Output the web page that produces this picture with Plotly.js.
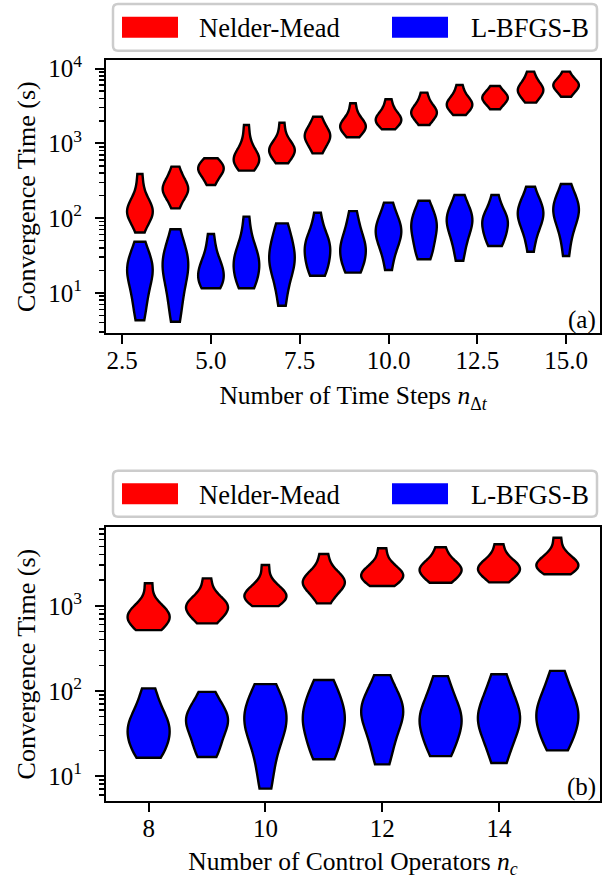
<!DOCTYPE html>
<html><head><meta charset="utf-8">
<script src="https://cdn.plot.ly/plotly-3.0.1.min.js"></script>
<style>html,body{margin:0;padding:0;background:#fff}#chart{width:606px;height:879px}</style>
</head><body><div id="chart"></div>
<script>
// ---------- data (convergence times in seconds) ----------
const timeSteps = [3,4,5,6,7,8,9,10,11,12,13,14,15];
const nelderMeadA = [
  [64, 89, 105, 115, 123, 129, 141, 166, 224, 389],
  [135, 178, 204, 224, 240, 257, 282, 316, 372, 488],
  [277, 331, 372, 407, 437, 457, 490, 525, 575, 631],
  [432, 501, 550, 589, 617, 661, 724, 832, 1122, 1762],
  [542, 631, 708, 776, 813, 851, 912, 1000, 1259, 1892],
  [736, 891, 1023, 1148, 1230, 1288, 1413, 1549, 1820, 2275],
  [1208, 1380, 1514, 1622, 1698, 1778, 1905, 2089, 2512, 3443],
  [1545, 1738, 1862, 1995, 2089, 2188, 2344, 2570, 3020, 3890],
  [1762, 2042, 2291, 2455, 2570, 2692, 2884, 3162, 3715, 4775],
  [2399, 2692, 2951, 3162, 3311, 3467, 3715, 4074, 4677, 6053],
  [2864, 3236, 3548, 3802, 3981, 4169, 4365, 4677, 5129, 5861],
  [3508, 4074, 4467, 4898, 5129, 5370, 5754, 6310, 7244, 9120],
  [4217, 4786, 5248, 5623, 5888, 6166, 6457, 6918, 7586, 9120]
];
const lbfgsbA = [
  [4.3, 6.3, 8.9, 12.0, 15.1, 18.2, 20.9, 23.4, 26.3, 31.6, 48.3],
  [4.1, 6.3, 9.5, 13.2, 17.4, 21.4, 25.1, 28.2, 32.4, 41.7, 70.8],
  [11.5, 12.0, 13.2, 15.1, 17.4, 19.5, 21.4, 24.0, 28.8, 39.8, 61.2],
  [11.5, 13.2, 15.8, 19.1, 22.4, 25.7, 28.8, 33.1, 39.8, 56.2, 104.5],
  [6.7, 11.2, 16.6, 21.4, 25.1, 28.2, 31.6, 38.0, 50.1, 63.1, 85.1],
  [16.9, 19.1, 22.9, 27.5, 33.1, 38.0, 42.7, 47.9, 55.0, 70.8, 118],
  [18.6, 20.9, 25.1, 30.2, 35.5, 39.8, 43.6, 50.1, 63.1, 83.2, 124],
  [20.2, 31.6, 41.7, 50.1, 57.5, 64.6, 70.8, 79.4, 91.2, 112, 161],
  [28.1, 33.1, 41.7, 51.3, 61.7, 72.4, 81.3, 91.2, 105, 126, 171],
  [26.9, 39.8, 52.5, 66.1, 77.6, 89.1, 97.7, 107, 120, 145, 204],
  [42.4, 47.9, 56.2, 66.1, 75.9, 85.1, 93.3, 102, 115, 138, 204],
  [35.5, 56.2, 72.4, 87.1, 100, 112, 123, 135, 151, 182, 263],
  [31.1, 52.5, 72.4, 91.2, 107, 123, 135, 148, 166, 200, 286]
];
const controlOps = [8,9,10,11,12,13,14,15];
const nelderMeadB = [
  [518, 562, 631, 692, 741, 794, 851, 933, 1096, 1837],
  [621, 708, 813, 891, 955, 1000, 1072, 1175, 1380, 2099],
  [991, 1072, 1175, 1259, 1318, 1380, 1479, 1622, 1950, 3013],
  [1067, 1380, 1585, 1738, 1862, 1950, 2089, 2291, 2692, 4055],
  [1706, 1862, 2042, 2188, 2291, 2399, 2570, 2818, 3311, 4732],
  [1866, 2042, 2291, 2512, 2630, 2754, 2951, 3236, 3715, 4864],
  [1884, 2138, 2399, 2570, 2692, 2818, 3020, 3311, 3802, 5272],
  [2344, 2512, 2754, 2884, 3020, 3162, 3388, 3715, 4365, 6310]
];
const lbfgsbB = [
  [16.4, 18.6, 22.4, 26.9, 31.6, 35.5, 39.8, 45.7, 55.0, 72.4, 107],
  [16.7, 20.0, 25.1, 31.6, 38.0, 42.7, 46.8, 51.3, 58.9, 72.4, 97.3],
  [7.1, 12.6, 20.0, 28.2, 36.3, 42.7, 47.9, 55.0, 67.6, 89.1, 120],
  [15.7, 19.1, 25.1, 33.1, 39.8, 45.7, 52.5, 63.1, 79.4, 100, 134],
  [13.7, 20.0, 28.2, 37.2, 45.7, 53.7, 60.3, 67.6, 79.4, 100, 153],
  [17.1, 20.9, 26.9, 33.9, 40.7, 45.7, 51.3, 60.3, 75.9, 100, 149],
  [14.2, 20.9, 28.2, 35.5, 41.7, 47.9, 53.7, 63.1, 79.4, 105, 157],
  [20.0, 25.1, 31.6, 38.9, 45.7, 52.5, 60.3, 70.8, 87.1, 115, 172]
];
const seriesNames = ['Nelder-Mead', 'L-BFGS-B'];
const seriesColors = ['#ff0000', '#0000ff'];
const xTicksA = [2.5, 5, 7.5, 10, 12.5, 15];
const xTickTextA = ['2.5', '5.0', '7.5', '10.0', '12.5', '15.0'];
const xTicksB = [8, 10, 12, 14];
const xTickTextB = ['8', '10', '12', '14'];
const yDecades = [1, 2, 3, 4];
const yTickText = ['10<sup>1</sup>', '10<sup>2</sup>', '10<sup>3</sup>', '10<sup>4</sup>'];

// ---------- build ----------
const FONT = "'Liberation Serif', 'Times New Roman', serif";
// Scott's rule bandwidth (as matplotlib's violinplot) on log10 values
function scottBw(v) {
  const n = v.length, m = v.reduce((a, b) => a + b, 0) / n;
  const sd = Math.sqrt(v.reduce((a, b) => a + (b - m) * (b - m), 0) / (n - 1));
  return sd * Math.pow(n, -0.2);
}
const traces = [];
function addViolins(pos, groups, ci, xa, ya) {
  groups.forEach((g, i) => {
    const y = g.map(v => Math.log10(v));
    traces.push({
      type: 'violin', x: g.map(() => pos[i]), y, xaxis: xa, yaxis: ya,
      name: seriesNames[ci], fillcolor: seriesColors[ci], opacity: 1,
      line: {color: 'black', width: 2.4},
      width: 0.72, scalemode: 'width', spanmode: 'hard', points: false,
      bandwidth: scottBw(y),
      box: {visible: false}, meanline: {visible: false},
      showlegend: false, hoverinfo: 'skip'
    });
  });
}
addViolins(timeSteps, nelderMeadA, 0, 'x', 'y');
addViolins(timeSteps, lbfgsbA, 1, 'x', 'y');
addViolins(controlOps, nelderMeadB, 0, 'x2', 'y2');
addViolins(controlOps, lbfgsbB, 1, 'x2', 'y2');

const minorVals = [];
for (let n = -1; n <= 4; n++) for (let k = 2; k <= 9; k++) minorVals.push(Math.log10(k) + n);

// pixel -> paper helpers (plot area: x 106..600, y 60..801)
const L = 106, R = 600, T = 60, B = 801;
const PX = p => (p - L) / (R - L);
const PY = p => (B - p) / (B - T);

function roundRect(x0, y0, x1, y1, r) {
  const pts = [
    ['M', x0 + r, y0], ['L', x1 - r, y0], ['Q', x1, y0, x1, y0 + r], ['L', x1, y1 - r],
    ['Q', x1, y1, x1 - r, y1], ['L', x0 + r, y1], ['Q', x0, y1, x0, y1 - r], ['L', x0, y0 + r],
    ['Q', x0, y0, x0 + r, y0]
  ];
  return pts.map(p => {
    let s = p[0];
    for (let i = 1; i < p.length; i += 2) s += (i > 1 ? ' ' : '') + PX(p[i]).toFixed(5) + ',' + PY(p[i + 1]).toFixed(5);
    return s;
  }).join(' ') + ' Z';
}

const shapes = [], annotations = [];
function legendBlock(top, bottom) {
  shapes.push({type: 'path', xref: 'paper', yref: 'paper', path: roundRect(113, top, 597, bottom, 5),
    line: {color: '#cccccc', width: 2.5}, fillcolor: 'rgba(255,255,255,0.8)', layer: 'above'});
  const mid = (top + bottom) / 2;
  const patchX = [[122, 178], [392, 448]];
  const textX = [197, 469];
  for (let i = 0; i < 2; i++) {
    shapes.push({type: 'rect', xref: 'paper', yref: 'paper',
      x0: PX(patchX[i][0]), x1: PX(patchX[i][1]), y0: PY(mid - 10.5), y1: PY(mid + 10.5),
      fillcolor: seriesColors[i], line: {width: 0}, layer: 'above'});
    annotations.push({xref: 'paper', yref: 'paper', x: PX(textX[i]), y: PY(mid + 1),
      xanchor: 'left', yanchor: 'middle', showarrow: false, text: seriesNames[i],
      font: {family: FONT, size: 26.5, color: 'black'}});
  }
}
legendBlock(4, 50.7);
legendBlock(470.7, 516.7);
annotations.push({xref: 'paper', yref: 'paper', x: PX(598), y: PY(320), xanchor: 'right', yanchor: 'middle',
  showarrow: false, text: '(a)', font: {family: FONT, size: 25, color: 'black'}});
annotations.push({xref: 'paper', yref: 'paper', x: PX(598), y: PY(787), xanchor: 'right', yanchor: 'middle',
  showarrow: false, text: '(b)', font: {family: FONT, size: 25, color: 'black'}});

function xAxis(range, tv, tt, title, anchor) {
  return {range, anchor, domain: [0, 1], tickmode: 'array', tickvals: tv, ticktext: tt,
    ticks: 'outside', ticklen: 9, tickwidth: 2, tickcolor: 'black', ticklabelstandoff: -5,
    showline: true, mirror: true, linewidth: 2, linecolor: 'black',
    showgrid: false, zeroline: false, automargin: false,
    tickfont: {family: FONT, size: 25, color: 'black'},
    title: {text: title, standoff: 13, font: {family: FONT, size: 25.5, color: 'black'}}};
}
function yAxis(range, domain, anchor) {
  return {range, anchor, domain, tickmode: 'array', tickvals: yDecades, ticktext: yTickText,
    ticks: 'outside', ticklen: 9, tickwidth: 2, tickcolor: 'black', ticklabelstandoff: 8,
    minor: {tickmode: 'array', tickvals: minorVals, ticks: 'outside', ticklen: 5, tickwidth: 1.5, tickcolor: 'black', showgrid: false},
    showline: true, mirror: true, linewidth: 2, linecolor: 'black',
    showgrid: false, zeroline: false, automargin: false,
    tickfont: {family: FONT, size: 25, color: 'black'},
    title: {text: 'Convergence Time (s)', standoff: 5, font: {family: FONT, size: 26, color: 'black'}}};
}

const layout = {
  width: 606, height: 879, paper_bgcolor: 'white', plot_bgcolor: 'white',
  margin: {l: L, r: 606 - R, t: T, b: 879 - B, pad: 0},
  showlegend: false, violinmode: 'overlay',
  font: {family: FONT, size: 25, color: 'black'},
  xaxis: xAxis([2.045, 15.955], xTicksA, xTickTextA, 'Number of Time Steps <i>n</i><sub>Δ<i>t</i></sub>', 'y'),
  yaxis: yAxis([0.458, 4.116], [PY(333.3), 1], 'x'),
  xaxis2: xAxis([7.27, 15.73], xTicksB, xTickTextB, 'Number of Control Operators <i>n</i><sub><i>c</i></sub>', 'y2'),
  yaxis2: yAxis([0.706, 3.922], [0, PY(527.3)], 'x2'),
  shapes, annotations
};
Plotly.newPlot('chart', traces, layout, {staticPlot: true, displayModeBar: false});
</script>
</body></html>
